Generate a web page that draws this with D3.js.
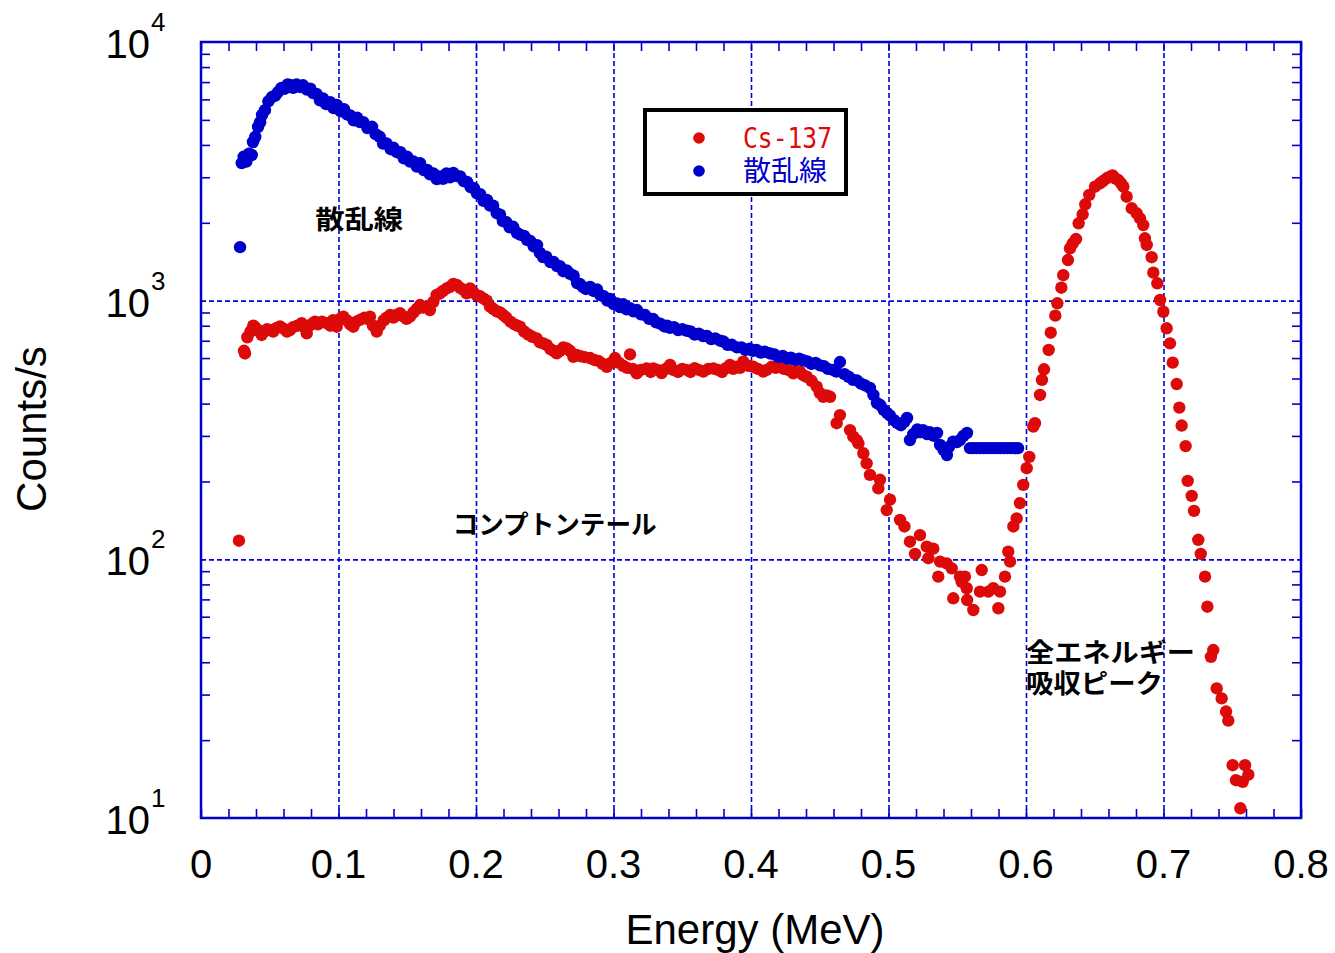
<!DOCTYPE html>
<html><head><meta charset="utf-8">
<script src="https://cdn.jsdelivr.net/npm/d3@7"></script>
<style>body{margin:0;background:#fff;} svg{display:block;}</style>
</head><body>
<svg id="chart" width="1335" height="953"></svg>
<script>
// ---------- data ----------
const xTickValues = [0, 0.1, 0.2, 0.3, 0.4, 0.5, 0.6, 0.7, 0.8];
const xTickLabels = ["0", "0.1", "0.2", "0.3", "0.4", "0.5", "0.6", "0.7", "0.8"];
const yDecades = [10, 100, 1000, 10000];
const yExponents = ["1", "2", "3", "4"];
const seriesNames = ["Cs-137", "散乱線"];
const xTitle = "Energy (MeV)";
const yTitle = "Counts/s";
const annotationTexts = ["散乱線", "コンプトンテール", "全エネルギー", "吸収ピーク"];

// Cs-137 direct spectrum: [energy MeV, counts/s]
const csData = [[0.0276,118],[0.0313,640],[0.0320,625],[0.0337,722],[0.0360,760],[0.0380,800],[0.0393,790],[0.0415,770],[0.0441,737],[0.0460,760],[0.0480,775],[0.0502,770],[0.0525,760],[0.0550,785],[0.0575,795],[0.0600,780],[0.0625,760],[0.0647,770],[0.0670,790],[0.0700,800],[0.0732,818],[0.0750,790],[0.0769,748],[0.0790,800],[0.0810,815],[0.0829,829],[0.0850,810],[0.0880,830],[0.0914,818],[0.0940,800],[0.0960,840],[0.0987,793],[0.1010,850],[0.1035,867],[0.1060,840],[0.1085,810],[0.1108,793],[0.1130,830],[0.1160,845],[0.1190,860],[0.1210,850],[0.1229,867],[0.1250,800],[0.1278,759],[0.1300,800],[0.1330,840],[0.1350,860],[0.1375,880],[0.1400,860],[0.1420,880],[0.1447,894],[0.1470,870],[0.1495,850],[0.1520,867],[0.1545,900],[0.1570,930],[0.1593,962],[0.1615,940],[0.1641,948],[0.1665,920],[0.1690,990],[0.1714,1052],[0.1738,1068],[0.1760,1090],[0.1787,1116],[0.1810,1130],[0.1835,1160],[0.1860,1150],[0.1885,1120],[0.1910,1100],[0.1932,1068],[0.1956,1116],[0.1980,1080],[0.2005,1050],[0.2030,1040],[0.2053,1021],[0.2078,1000],[0.2102,948],[0.2125,930],[0.2150,910],[0.2175,900],[0.2199,880],[0.2220,860],[0.2250,830],[0.2280,810],[0.2300,800],[0.2320,793],[0.2350,760],[0.2380,740],[0.2410,725],[0.2441,715],[0.2465,690],[0.2490,684],[0.2514,674],[0.2540,650],[0.2565,640],[0.2587,626],[0.2610,640],[0.2635,660],[0.2660,654],[0.2684,640],[0.2708,607],[0.2732,617],[0.2760,610],[0.2790,605],[0.2829,600],[0.2860,590],[0.2890,585],[0.2920,570],[0.2951,555],[0.2980,575],[0.3011,600],[0.3040,575],[0.3070,560],[0.3100,550],[0.3120,620],[0.3140,545],[0.3169,524],[0.3200,540],[0.3241,547],[0.3270,530],[0.3290,547],[0.3320,540],[0.3350,525],[0.3380,545],[0.3411,564],[0.3435,540],[0.3470,530],[0.3500,545],[0.3532,540],[0.3560,530],[0.3590,548],[0.3620,540],[0.3653,532],[0.3690,545],[0.3726,547],[0.3760,540],[0.3790,530],[0.3820,550],[0.3847,564],[0.3870,545],[0.3896,555],[0.3920,550],[0.3944,581],[0.3980,560],[0.4017,555],[0.4050,545],[0.4089,532],[0.4114,540],[0.4150,555],[0.4180,550],[0.4211,564],[0.4240,545],[0.4270,540],[0.4308,524],[0.4330,535],[0.4356,532],[0.4380,515],[0.4405,508],[0.4440,490],[0.4478,465],[0.4500,440],[0.4526,425],[0.4550,430],[0.4575,425],[0.4623,336],[0.4647,361],[0.4720,316],[0.4744,298],[0.4769,289],[0.4781,281],[0.4817,257],[0.4841,235],[0.4865,212],[0.4926,188],[0.4938,203],[0.4987,155],[0.5011,170],[0.5084,142],[0.5116,134],[0.5156,117],[0.5193,105],[0.5229,124],[0.5278,112],[0.5290,101],[0.5326,110],[0.5362,85.7],[0.5375,98],[0.5423,96.5],[0.5460,92.3],[0.5471,70.7],[0.5520,85.7],[0.5532,81.9],[0.5556,85.7],[0.5569,77.3],[0.5572,69.6],[0.5617,63.7],[0.5665,75],[0.5678,90.9],[0.5726,75],[0.5762,77.3],[0.5799,64.7],[0.5811,75],[0.5847,85.7],[0.5871,107],[0.5884,98],[0.5908,134],[0.5932,144],[0.5956,165],[0.5980,194],[0.6005,225],[0.6024,249],[0.6053,326],[0.6065,336],[0.6102,432],[0.6116,494],[0.6131,543],[0.6165,645],[0.6180,752],[0.6213,875],[0.6228,977],[0.6257,1122],[0.6271,1254],[0.6305,1436],[0.6320,1594],[0.6340,1667],[0.6364,1731],[0.6383,1991],[0.6412,2157],[0.6431,2358],[0.6460,2562],[0.6502,2758],[0.6538,2843],[0.6560,2900],[0.6587,2972],[0.6611,3015],[0.6630,3050],[0.6647,2972],[0.6671,2926],[0.6690,2850],[0.6708,2758],[0.6732,2523],[0.6769,2276],[0.6805,2177],[0.6829,2081],[0.6853,1961],[0.6865,1742],[0.6878,1642],[0.6914,1472],[0.6926,1283],[0.6955,1167],[0.6975,1006],[0.6999,906],[0.7023,782],[0.7047,684],[0.7067,576],[0.7096,476],[0.7115,386],[0.7132,329],[0.7161,274],[0.7176,201],[0.7205,176],[0.7222,154],[0.7253,119],[0.7271,105],[0.7302,85.7],[0.7319,65.6],[0.7345,42],[0.7362,44.6],[0.7387,31.7],[0.7423,29],[0.7455,25.8],[0.7471,23.8],[0.7503,16.0],[0.7527,14.0],[0.7559,10.9],[0.7576,13.8],[0.7593,16.0],[0.7617,14.7]];

// scattered radiation spectrum: [energy MeV, counts/s]
const scatterData = [[0.0284,1610],[0.0296,3405],[0.0310,3600],[0.0330,3450],[0.0350,3700],[0.0369,3657],[0.0378,4106],[0.0395,4300],[0.0415,4692],[0.0430,4900],[0.0444,5221],[0.0465,5450],[0.0490,5900],[0.0516,6127],[0.0540,6200],[0.0560,6407],[0.0585,6650],[0.0610,6600],[0.0630,6850],[0.0647,6820],[0.0670,6650],[0.0695,6850],[0.0720,6700],[0.0742,6800],[0.0770,6550],[0.0795,6600],[0.0815,6350],[0.0840,6300],[0.0865,5950],[0.0887,6050],[0.0910,5750],[0.0940,5850],[0.0965,5550],[0.0989,5707],[0.1015,5400],[0.1040,5500],[0.1062,5250],[0.1085,5200],[0.1110,4980],[0.1135,5100],[0.1156,4900],[0.1180,4900],[0.1210,4650],[0.1244,4700],[0.1270,4400],[0.1300,4300],[0.1324,4050],[0.1350,4050],[0.1380,3850],[0.1400,3900],[0.1425,3750],[0.1450,3750],[0.1475,3550],[0.1500,3600],[0.1520,3450],[0.1545,3450],[0.1570,3300],[0.1593,3400],[0.1620,3200],[0.1645,3200],[0.1665,3080],[0.1690,3100],[0.1715,2950],[0.1738,3020],[0.1760,2960],[0.1785,3100],[0.1811,3000],[0.1835,3120],[0.1862,3030],[0.1885,3020],[0.1910,2900],[0.1935,2876],[0.1960,2750],[0.1985,2720],[0.2007,2600],[0.2030,2580],[0.2055,2430],[0.2080,2450],[0.2102,2330],[0.2125,2330],[0.2150,2180],[0.2175,2150],[0.2196,2030],[0.2220,2010],[0.2245,1920],[0.2270,1930],[0.2298,1830],[0.2320,1800],[0.2350,1780],[0.2371,1720],[0.2395,1700],[0.2420,1620],[0.2444,1640],[0.2465,1529],[0.2487,1475],[0.2510,1480],[0.2540,1410],[0.2565,1410],[0.2589,1360],[0.2610,1360],[0.2635,1300],[0.2660,1310],[0.2684,1270],[0.2710,1250],[0.2735,1170],[0.2755,1160],[0.2778,1129],[0.2800,1110],[0.2830,1130],[0.2855,1090],[0.2880,1105],[0.2905,1050],[0.2930,1040],[0.2955,1000],[0.2975,1015],[0.3000,970],[0.3025,975],[0.3047,945],[0.3070,970],[0.3095,925],[0.3120,935],[0.3145,910],[0.3171,920],[0.3200,885],[0.3230,880],[0.3260,850],[0.3287,850],[0.3310,825],[0.3340,815],[0.3370,795],[0.3390,800],[0.3411,785],[0.3440,790],[0.3470,770],[0.3500,775],[0.3535,765],[0.3560,760],[0.3590,740],[0.3620,745],[0.3651,730],[0.3680,730],[0.3710,710],[0.3740,715],[0.3775,700],[0.3800,695],[0.3830,675],[0.3860,675],[0.3898,660],[0.3930,660],[0.3960,645],[0.3990,652],[0.4015,640],[0.4040,645],[0.4070,630],[0.4100,635],[0.4138,625],[0.4170,620],[0.4200,605],[0.4230,612],[0.4262,598],[0.4290,602],[0.4320,590],[0.4350,597],[0.4378,588],[0.4410,582],[0.4440,570],[0.4470,575],[0.4502,562],[0.4530,558],[0.4560,545],[0.4596,540],[0.4620,532],[0.4647,579],[0.4680,520],[0.4710,508],[0.4742,494],[0.4770,492],[0.4800,478],[0.4830,470],[0.4865,460],[0.4890,432],[0.4916,402],[0.4940,395],[0.4965,378],[0.4989,368],[0.5010,360],[0.5040,345],[0.5062,337],[0.5090,330],[0.5115,340],[0.5135,352],[0.5156,289],[0.5180,305],[0.5210,318],[0.5230,310],[0.5251,316],[0.5280,305],[0.5300,310],[0.5330,300],[0.5353,308],[0.5375,277],[0.5400,265],[0.5425,253],[0.5440,272],[0.5470,285],[0.5498,284],[0.5520,289],[0.5545,300],[0.5571,308],[0.5593,269],[0.5615,269],[0.5640,269],[0.5665,269],[0.5690,269],[0.5715,269],[0.5740,269],[0.5765,269],[0.5790,269],[0.5815,269],[0.5840,269],[0.5865,269],[0.5890,269],[0.5915,269],[0.5942,269]];

// ---------- drawing ----------
const RED = "#dd0a0a", BLUE = "#0000cc", GRID = "#0000dd";
const svg = d3.select("#chart");
const L = 201, R = 1301, T = 42, B = 818;
const x = d3.scaleLinear().domain([0, 0.8]).range([L, R]);
const y = d3.scaleLog().domain([10, 10000]).range([B, T]);

// grid lines (dashed)
const gridX = xTickValues.slice(1, -1);
svg.append("g").attr("transform", `translate(0,${B})`)
  .call(d3.axisBottom(x).tickValues(gridX).tickSize(-(B - T)).tickFormat(""))
  .call(g => g.select(".domain").remove())
  .call(g => g.selectAll("line").attr("stroke", GRID).attr("stroke-width", 1.6).attr("stroke-dasharray", "5,3"));
const gridY = yDecades.slice(1, -1);
svg.append("g").attr("transform", `translate(${L},0)`)
  .call(d3.axisLeft(y).tickValues(gridY).tickSize(-(R - L)).tickFormat(""))
  .call(g => g.select(".domain").remove())
  .call(g => g.selectAll("line").attr("stroke", GRID).attr("stroke-width", 1.6).attr("stroke-dasharray", "5,3"));

// minor ticks
const minorX = d3.range(0, 0.8001, 0.02);
const minorY = [];
yDecades.slice(0, -1).forEach(d => { for (let m = 2; m <= 9; m++) minorY.push(d * m); });
function styleTicks(g) {
  g.select(".domain").remove();
  g.selectAll("line").attr("stroke", BLUE).attr("stroke-width", 1.6);
}
svg.append("g").attr("transform", `translate(0,${B})`)
  .call(d3.axisBottom(x).tickValues(minorX).tickSize(-9).tickFormat("")).call(styleTicks);
svg.append("g").attr("transform", `translate(0,${T})`)
  .call(d3.axisTop(x).tickValues(minorX).tickSize(-9).tickFormat("")).call(styleTicks);
svg.append("g").attr("transform", `translate(${L},0)`)
  .call(d3.axisLeft(y).tickValues(minorY).tickSize(-9).tickFormat("")).call(styleTicks);
svg.append("g").attr("transform", `translate(${R},0)`)
  .call(d3.axisRight(y).tickValues(minorY).tickSize(-9).tickFormat("")).call(styleTicks);

// frame
svg.append("rect").attr("x", L).attr("y", T).attr("width", R - L).attr("height", B - T)
  .attr("fill", "none").attr("stroke", BLUE).attr("stroke-width", 2.5);

// data points
const FONT = "'Liberation Sans', Arial, sans-serif";
const MR = 6.2;
svg.append("g").selectAll("circle").data(csData).join("circle")
  .attr("cx", d => x(d[0])).attr("cy", d => y(d[1])).attr("r", MR).attr("fill", RED);
svg.append("g").selectAll("circle").data(scatterData).join("circle")
  .attr("cx", d => x(d[0])).attr("cy", d => y(d[1])).attr("r", MR).attr("fill", BLUE);

// x tick labels
svg.append("g").selectAll("text").data(xTickValues).join("text")
  .attr("x", d => x(d)).attr("y", B + 60)
  .attr("text-anchor", "middle").attr("font-family", FONT).attr("font-size", 40).attr("fill", "#000")
  .text((d, i) => xTickLabels[i]);

// y tick labels (10^n)
const yl = svg.append("g").selectAll("g").data(yDecades).join("g");
yl.append("text").attr("x", 150).attr("y", d => y(d) + 16)
  .attr("text-anchor", "end").attr("font-family", FONT).attr("font-size", 40).text("10");
yl.append("text").attr("x", 151).attr("y", d => y(d) - 11)
  .attr("font-family", FONT).attr("font-size", 26).text((d, i) => yExponents[i]);

// axis titles
svg.append("text").attr("x", 755).attr("y", 944).attr("text-anchor", "middle")
  .attr("font-family", FONT).attr("font-size", 42).text(xTitle);
svg.append("text").attr("transform", `translate(46,429) rotate(-90)`).attr("text-anchor", "middle")
  .attr("font-family", FONT).attr("font-size", 42).text(yTitle);

// legend
const lg = svg.append("g");
lg.append("rect").attr("x", 645).attr("y", 110).attr("width", 201).attr("height", 84)
  .attr("fill", "#fff").attr("stroke", "#000").attr("stroke-width", 4);
const legendColors = [RED, BLUE];
seriesNames.forEach((name, i) => {
  const cy = 138 + i * 33;
  lg.append("circle").attr("cx", 699).attr("cy", cy).attr("r", 5.8).attr("fill", legendColors[i]);
  lg.append("text").attr("x", 743).attr("y", cy + 10)
    .attr("font-family", i === 0 ? "'DejaVu Sans Mono', monospace" : "'Noto Sans CJK JP', sans-serif")
    .attr("font-size", 28).attr("fill", legendColors[i])
    .attr("textLength", i === 0 ? 89 : 84).attr("lengthAdjust", "spacingAndGlyphs")
    .text(name);
});

// annotations
const CJK = "'Noto Sans CJK JP', sans-serif";
const annPos = [[0.083, 1900, 88], [0.183, 125, 204], [0.6, 40, 169], [0.6, 30.4, 137]];
annotationTexts.forEach((t, i) => {
  const [ex, cv, w] = annPos[i];
  svg.append("text").attr("x", x(ex)).attr("y", y(cv))
    .attr("font-family", CJK).attr("font-weight", "bold").attr("font-size", 26)
    .attr("textLength", w).attr("lengthAdjust", "spacingAndGlyphs").attr("fill", "#000").text(t);
});
</script>
</body></html>
